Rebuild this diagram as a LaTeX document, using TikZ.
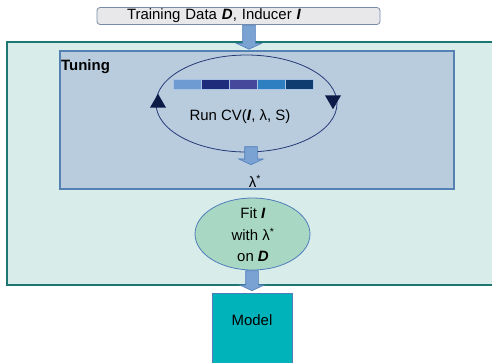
\documentclass[tikz,border=0pt]{standalone}
\usepackage{fontspec}
\setmainfont{Liberation Sans}
\usetikzlibrary{shapes.geometric,shapes.arrows,positioning}
\definecolor{outerfill}{RGB}{216,236,234}
\definecolor{outerline}{RGB}{30,118,114}
\definecolor{tunefill}{RGB}{184,204,222}
\definecolor{tuneline}{RGB}{84,128,180}
\definecolor{datafill}{RGB}{232,232,234}
\definecolor{dataline}{RGB}{120,140,170}
\definecolor{arrfill}{RGB}{122,163,212}
\definecolor{arrline}{RGB}{80,125,185}
\definecolor{loopline}{RGB}{38,58,120}
\definecolor{markfill}{RGB}{12,26,72}
\definecolor{fitfill}{RGB}{168,216,196}
\definecolor{modelfill}{RGB}{0,178,186}
\definecolor{segA}{RGB}{110,155,209}
\definecolor{segB}{RGB}{31,44,124}
\definecolor{segC}{RGB}{70,73,155}
\definecolor{segD}{RGB}{46,127,194}
\definecolor{segE}{RGB}{14,59,112}

\begin{document}
\begin{tikzpicture}[x=1bp,y=-1bp,
    font=\fontsize{15}{17}\selectfont,
    databox/.style={draw=dataline, fill=datafill, rounded corners=3bp, line width=0.8bp},
    outerbox/.style={draw=outerline, fill=outerfill, line width=2bp, inner sep=0pt},
    tunebox/.style={draw=tuneline, fill=tunefill, line width=1.2bp, inner sep=0pt},
    cvloop/.style={ellipse, draw=loopline, line width=0.8bp, inner sep=0pt},
    seg/.style={draw=segA!60!white, line width=0.4bp, minimum width=28bp, minimum height=10bp, inner sep=0pt},
    turnmark/.style={regular polygon, regular polygon sides=3, fill=markfill, minimum size=18.5bp, inner sep=0pt},
    blockarr/.style={single arrow, draw=arrline, fill=arrfill, line width=0.6bp, rotate=-90,
      inner xsep=0pt, inner ysep=6bp, single arrow head extend=6bp, single arrow tip angle=130, anchor=tail},
    fitnode/.style={ellipse, draw=arrline, fill=fitfill, line width=0.8bp, inner sep=0pt},
    modelbox/.style={draw=arrline, fill=modelfill, line width=0.8bp, inner sep=0pt}]
  \useasboundingbox (0,0) rectangle (492,362);
  \node [databox, text width=223bp, align=left, inner xsep=30bp, inner ysep=1.5bp] (data) at (238.5,16)
    {Training Data \textbf{\textit{D}}, Inducer \textbf{\textit{I}}};
  \node [outerbox, minimum width=488bp, minimum height=243bp] (outer) at (251,163.5) {};
  \node [tunebox, minimum width=394bp, minimum height=138bp] (tuning) at (257,120) {};
  \node [anchor=north west, inner sep=0pt, font=\fontsize{15}{17}\selectfont\bfseries] (tunelbl) at (61,59) {Tuning};
  \node [cvloop, minimum width=181bp, minimum height=97bp] (cv) at (246.5,103.5) {};
  \foreach \c [count=\i] in {segA,segB,segC,segD,segE}
    \node [seg, fill=\c] (seg\i) at (159+28*\i,84) {};
  \node [turnmark] (upmark) at (158,103) {};
  \node [turnmark, shape border rotate=180] (downmark) at (333,100) {};
  \node (cvtext) at (240,117) {Run CV(\textbf{\textit{I}}, λ, S)};
  \node (lambda) at (255,181) {λ\textsuperscript{*}};
  \node [fitnode, minimum width=115bp, minimum height=72bp] (fit) at (252.5,234) {};
  \node [align=center, font=\fontsize{15}{21.5}\selectfont] (fittext) at (253,235)
    {Fit \textbf{\textit{I}}\\with λ\textsuperscript{*}\\on \textbf{\textit{D}}};
  \node [modelbox, minimum width=80bp, minimum height=72bp, anchor=north] (model) at (252,293) {};
  \node (modeltext) at (252,320) {Model};
  % block arrows
  \node [blockarr, minimum height=24bp] (arrin) at ([xshift=10.5bp]data.south) {};
  \node [blockarr, minimum height=18bp] (arrcv) at ([xshift=4.5bp,yshift=6bp]cv.south) {};
  \node [blockarr, minimum height=20bp] (arrfit) at (model.north |- fit.south) {};
\end{tikzpicture}
\end{document}
